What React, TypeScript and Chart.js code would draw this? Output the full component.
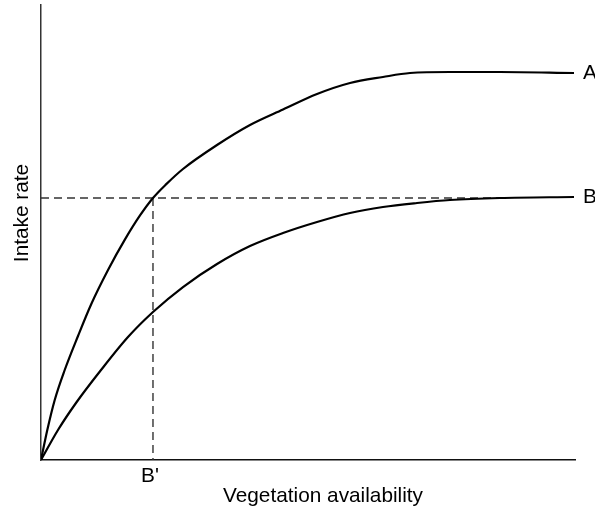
import React, { useEffect, useRef } from "react";
import { Chart, registerables } from "chart.js";

Chart.register(...registerables);

// Curve A (higher intake)
const curveAX = [0, 1.18, 2.57, 4.44, 6.93, 9.42, 12.55, 15.73, 18.54, 20.97, 23.41, 26.59, 32.96, 39.14, 45.32, 51.69, 57.87, 64.04, 69.1, 76.59, 85.96, 99.81];
const curveAY = [0, 6.59, 13.19, 19.78, 27.25, 34.29, 41.76, 48.48, 53.74, 57.58, 60.57, 63.96, 69.23, 73.63, 77.03, 80.44, 82.86, 84.18, 85.05, 85.27, 85.27, 85.05];
// Curve B (lower intake)
const curveBX = [0, 3.18, 6.55, 11.24, 16.29, 20.97, 26.59, 32.96, 39.14, 45.32, 51.69, 57.87, 64.04, 70.41, 76.59, 85.96, 99.81];
const curveBY = [0, 6.59, 12.53, 19.78, 27.03, 32.53, 38.02, 43.08, 47.03, 49.89, 52.31, 54.29, 55.6, 56.48, 57.14, 57.58, 57.8];
// Reference (dashed) lines
const refLevel = 57.58; // intake level of B's plateau
const refBPrime = 20.97; // vegetation availability B'
const refHEnd = 86.0;

const curveLabels = ["A", "B"];
const markLabel = "B'";
const xTitle = "Vegetation availability";
const yTitle = "Intake rate";

const FONT = "20.8px 'Liberation Sans', Arial, Helvetica, sans-serif";

export default function App() {
  const ref = useRef<HTMLCanvasElement>(null);

  useEffect(() => {
    if (!ref.current) return;
    document.body.style.margin = "0";
    const zip = (xs: number[], ys: number[]) => xs.map((x, i) => ({ x, y: ys[i] }));

    const labelPlugin = {
      id: "labels",
      afterDraw(chart: any) {
        const ctx = chart.ctx;
        const xs = chart.scales.x;
        const ys = chart.scales.y;
        ctx.save();
        ctx.fillStyle = "#000";
        ctx.font = FONT;
        ctx.textBaseline = "middle";
        ctx.textAlign = "left";
        const endX = xs.getPixelForValue(100) + 8;
        ctx.fillText(curveLabels[0], endX, ys.getPixelForValue(curveAY[curveAY.length - 1]));
        ctx.fillText(curveLabels[1], endX, ys.getPixelForValue(curveBY[curveBY.length - 1]));
        ctx.textAlign = "center";
        ctx.textBaseline = "alphabetic";
        ctx.fillText(markLabel, xs.getPixelForValue(refBPrime) - 3, 482);
        ctx.fillText(xTitle, 323, 502);
        ctx.translate(28, 213);
        ctx.rotate(-Math.PI / 2);
        ctx.fillText(yTitle, 0, 0);
        ctx.restore();
      },
    };

    const curveStyle = {
      showLine: true,
      borderColor: "#000",
      borderWidth: 2.2,
      pointRadius: 0,
      cubicInterpolationMode: "monotone",
    };
    const dashStyle = {
      showLine: true,
      borderColor: "#333",
      borderWidth: 1.4,
      borderDash: [8, 5],
      pointRadius: 0,
    };

    const chart = new Chart(ref.current, {
      type: "scatter",
      data: {
        datasets: [
          { data: zip(curveAX, curveAY), ...curveStyle },
          { data: zip(curveBX, curveBY), ...curveStyle },
          {
            data: [
              { x: 0, y: refLevel },
              { x: refHEnd, y: refLevel },
            ],
            ...dashStyle,
          },
          {
            data: [
              { x: refBPrime, y: refLevel },
              { x: refBPrime, y: 0 },
            ],
            ...dashStyle,
          },
        ],
      },
      options: {
        animation: false,
        responsive: false,
        events: [],
        layout: { padding: { left: 41, right: 20, top: 5, bottom: 49 } },
        plugins: { legend: { display: false }, tooltip: { enabled: false } },
        scales: {
          x: {
            type: "linear",
            min: 0,
            max: 100,
            ticks: { display: false },
            grid: { display: false, drawTicks: false },
            border: { display: true, color: "#111", width: 1.5 },
            afterFit: (s: any) => {
              s.height = 0;
            },
          },
          y: {
            type: "linear",
            min: 0,
            max: 100,
            ticks: { display: false },
            grid: { display: false, drawTicks: false },
            border: { display: true, color: "#333", width: 1.5 },
            afterFit: (s: any) => {
              s.width = 0;
            },
          },
        },
      },
      plugins: [labelPlugin],
    } as any);

    return () => chart.destroy();
  }, []);

  return (
    <div style={{ position: "absolute", left: 0, top: 0, width: 595, height: 509 }}>
      <canvas ref={ref} width={595} height={509} style={{ width: 595, height: 509 }} />
    </div>
  );
}
